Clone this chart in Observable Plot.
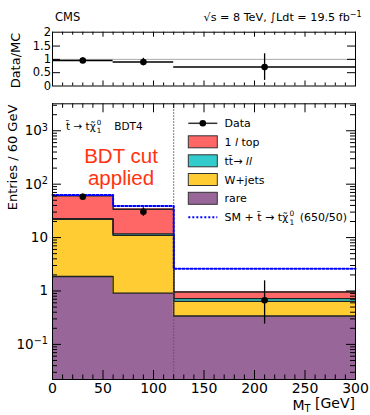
<!DOCTYPE html>
<html><head><meta charset="utf-8">
<script src="https://cdn.jsdelivr.net/npm/d3@7"></script>
<script src="https://cdn.jsdelivr.net/npm/@observablehq/plot@0.6"></script>
<style>
body{margin:0;background:#fff;}
#chart{position:relative;width:370px;height:415px;background:#fff;overflow:hidden;}
#chart svg{position:absolute;left:0;}
</style></head><body><div id="chart"></div>
<script>
// ---- data ----
const binLo = [0, 60, 120];
const binHi = [60, 120, 300];
const binMid = [30, 90, 210];
const layerNames = ["rare", "W+jets", "tt→ll", "1l top"];
const rare = [1.87, 0.91, 0.34];
const wjets = [20.1, 10.1, 0.30];
const ttll = [0.6, 0.7, 0.08];
const oneLepTop = [38.0, 22.3, 0.24];
const smSignal = [63, 39, 2.6];
const dataVal = [58, 30.5, 0.667];
const dataLo = [50.6, 25.1, 0.24];
const dataHi = [65.6, 36.1, 1.55];
const ratioVal = [0.96, 0.90, 0.71];
const ratioLo = [0.86, 0.76, 0.21];
const ratioHi = [1.06, 1.04, 1.21];
const xTicks = [0, 50, 100, 150, 200, 250, 300];
const yTicks = [0.1, 1, 10, 100, 1000];
const ratioTicks = [0, 0.5, 1, 1.5, 2];
const layerColors = ["#996699", "#ffcc33", "#33cccc", "#ff6666"];

// ---- layout ----
const W = 370, mL = 52, mR = 15, fW = W - mL - mR;
const mainTop = 95, mainH = 320, mT = 8.3, mB = 36, fH = mainH - mT - mB;
const rH = 95, rT = 31.7, rB = 9.5, rfH = rH - rT - rB;
const yDom = [0.022, 3200];
const FONT = "DejaVu Sans";

// stacked rows
const layers = [rare, wjets, ttll, oneLepTop];
const stackRows = [];
const tops = [];
const cum = binLo.map(() => 0);
layers.forEach((vals, li) => {
  const t = [];
  vals.forEach((v, bi) => {
    const y1 = cum[bi] === 0 ? 1e-4 : cum[bi];
    cum[bi] += v;
    stackRows.push({layer: layerNames[li], x1: binLo[bi], x2: binHi[bi], y1, y2: cum[bi], color: layerColors[li]});
    t.push(cum[bi]);
  });
  tops.push(t);
});
function stepPts(vals) {
  const pts = [];
  vals.forEach((v, i) => { pts.push({x: binLo[i], y: v}); pts.push({x: binHi[i], y: v}); });
  return pts;
}
const outlineRows = tops.flatMap((t, li) => stepPts(t).map(p => ({...p, layer: li})));
const smRows = stepPts(smSignal);
const dataRows = binMid.map((m, i) => ({x: m, y: dataVal[i], lo: dataLo[i], hi: dataHi[i]}));
const ratioRows = binMid.map((m, i) => ({x: m, x1: binLo[i], x2: binHi[i], y: ratioVal[i], lo: ratioLo[i], hi: ratioHi[i]}));

const xMinor = d3.range(0, 301, 10).filter(v => v % 50 !== 0);
const yMinor = [];
for (let e = -2; e <= 3; e++) for (let m = 2; m <= 9; m++) {
  const v = m * Math.pow(10, e);
  if (v > yDom[0] && v < yDom[1]) yMinor.push(v);
}
const yMajorIn = yTicks.filter(v => v > yDom[0] && v < yDom[1]);

function fmtLog(d) {
  const e = Math.round(Math.log10(d));
  if (e === 0) return "1";
  if (e === 1) return "10";
  return "10^" + e;
}

// ---- main panel ----
const main = Plot.plot({
  width: W, height: mainH,
  marginLeft: mL, marginRight: mR, marginTop: mT, marginBottom: mB,
  style: {fontFamily: FONT, fontSize: "14px", background: "transparent", overflow: "visible"},
  x: {domain: [0, 300], axis: null},
  y: {type: "log", domain: yDom, axis: null},
  marks: [
    Plot.rect(stackRows, {x1: "x1", x2: "x2", y1: "y1", y2: "y2", fill: "color", stroke: "color", strokeWidth: 0.8, clip: true}),
    Plot.line(outlineRows, {x: "x", y: "y", z: "layer", stroke: "#222", strokeWidth: 1.4, clip: true}),
    Plot.ruleX([120], {stroke: "#555", strokeWidth: 1, strokeDasharray: "1.5,1.5"}),
    Plot.line(smRows, {x: "x", y: "y", stroke: "#0000ff", strokeWidth: 2, strokeDasharray: "2,2"}),
    Plot.ruleX(dataRows, {x: "x", y1: "lo", y2: "hi", stroke: "black", strokeWidth: 1.3}),
    Plot.dot(dataRows, {x: "x", y: "y", r: 3.3, fill: "black"}),
    // inside ticks
    Plot.tickX(xTicks, {x: d => d, insetTop: fH - 9, stroke: "black"}),
    Plot.tickX(xTicks, {x: d => d, insetBottom: fH - 9, stroke: "black"}),
    Plot.tickX(xMinor, {x: d => d, insetTop: fH - 4.5, stroke: "black"}),
    Plot.tickX(xMinor, {x: d => d, insetBottom: fH - 4.5, stroke: "black"}),
    Plot.tickY(yMajorIn, {y: d => d, insetRight: fW - 9, stroke: "black"}),
    Plot.tickY(yMajorIn, {y: d => d, insetLeft: fW - 9, stroke: "black"}),
    Plot.tickY(yMinor, {y: d => d, insetRight: fW - 5, stroke: "black"}),
    Plot.tickY(yMinor, {y: d => d, insetLeft: fW - 5, stroke: "black"}),
    Plot.frame({stroke: "black", strokeWidth: 1}),
    Plot.axisX(xTicks, {tickSize: 0, tickPadding: 4, label: null, tickFormat: d => String(d)}),
    Plot.axisY(yTicks, {tickSize: 0, tickPadding: 4.5, label: null, tickFormat: fmtLog})
  ]
});
main.style.top = mainTop + "px";
d3.select(main).selectAll('g[aria-label="y-axis tick label"] text').each(function() {
  const s = d3.select(this);
  s.attr("font-size", 13.5);
  const t = s.text();
  if (t.includes("^")) {
    const [b, e] = t.split("^");
    s.text(b);
    s.append("tspan").attr("dy", "-0.45em").attr("font-size", "0.72em").text(e.replace("-", "\u2212"));
  }
});

// ---- ratio panel ----
const ratio = Plot.plot({
  width: W, height: rH,
  marginLeft: mL, marginRight: mR, marginTop: rT, marginBottom: rB,
  style: {fontFamily: FONT, fontSize: "11.5px", background: "transparent", overflow: "visible"},
  x: {domain: [0, 300], axis: null},
  y: {domain: [0, 2.02], axis: null},
  marks: [
    Plot.ruleY([1], {stroke: "#aaa", strokeWidth: 1}),
    Plot.ruleY(ratioRows, {y: "y", x1: "x1", x2: "x2", stroke: "black", strokeWidth: 1.5}),
    Plot.ruleX(ratioRows, {x: "x", y1: "lo", y2: "hi", stroke: "black", strokeWidth: 1.3}),
    Plot.dot(ratioRows, {x: "x", y: "y", r: 3.3, fill: "black"}),
    Plot.tickX(xTicks, {x: d => d, insetTop: rfH - 5, stroke: "black"}),
    Plot.tickX(xTicks, {x: d => d, insetBottom: rfH - 5, stroke: "black"}),
    Plot.tickX(xMinor, {x: d => d, insetTop: rfH - 3, stroke: "black"}),
    Plot.tickX(xMinor, {x: d => d, insetBottom: rfH - 3, stroke: "black"}),
    Plot.tickY([0.5, 1, 1.5], {y: d => d, insetRight: fW - 8, stroke: "black"}),
    Plot.tickY([0.5, 1, 1.5], {y: d => d, insetLeft: fW - 8, stroke: "black"}),
    Plot.frame({stroke: "black", strokeWidth: 1}),
    Plot.axisY(ratioTicks, {tickSize: 0, tickPadding: 1.5, label: null, tickFormat: d => String(d)})
  ]
});
ratio.style.top = "0px";

const chart = document.getElementById("chart");
chart.appendChild(ratio);
chart.appendChild(main);

// ---- overlay: titles, annotations, legend ----
const ov = d3.create("svg").attr("width", 370).attr("height", 415)
  .style("position", "absolute").style("top", "0px").style("left", "0px")
  .attr("font-family", FONT);
chart.appendChild(ov.node());

ov.append("text").attr("x", 55).attr("y", 20.7).attr("font-size", 11.5).text("CMS");
const en = ov.append("text").attr("x", 361.7).attr("y", 20.7).attr("font-size", 11.2).attr("text-anchor", "end");
en.append("tspan").text("\u221As = 8 TeV,  \u222BLdt = 19.5 fb");
en.append("tspan").attr("dy", "-0.45em").attr("font-size", "0.72em").text("\u22121");

ov.append("text").attr("transform", "translate(20,60.5) rotate(-90)").attr("text-anchor", "middle")
  .attr("font-size", 13).text("Data/MC");
ov.append("text").attr("transform", "translate(16.5,157.5) rotate(-90)").attr("text-anchor", "middle")
  .attr("font-size", 13).text("Entries / 60 GeV");

const mt = ov.append("text").attr("x", 355).attr("y", 409.5).attr("font-size", 14).attr("text-anchor", "end");
mt.append("tspan").text("M");
mt.append("tspan").attr("font-size", "0.7em").attr("dy", "0.25em").text("T");
mt.append("tspan").attr("dy", "-0.25em").text(" [GeV]");

// "t~ -> t chi~_1^0" with stacked sub/superscript, measured in place
function chiLabel(g, x, y, fs, pre, post, postX) {
  const t = g.append("text").attr("x", x).attr("y", y).attr("font-size", fs);
  t.append("tspan").text(pre);
  const w = t.node().getComputedTextLength();
  const sx = x + w + 1;
  t.append("tspan").attr("x", sx).attr("y", y - fs * 0.48).attr("font-size", fs * 0.68).text("0");
  t.append("tspan").attr("x", sx).attr("y", y + fs * 0.3).attr("font-size", fs * 0.68).text("1");
  const p = t.append("tspan").attr("y", y).text(post);
  if (postX != null) p.attr("x", postX); else p.attr("x", sx + fs * 0.95);
  return t;
}
chiLabel(ov, 66, 130, 10.5, "t\u0303 \u2192 t\u03C7\u0303", "BDT4", 114.3);

const bdt = ov.append("text").attr("fill", "#ff3311").attr("font-size", 20.5)
  .attr("font-family", "Liberation Sans").attr("text-anchor", "middle");
bdt.append("tspan").attr("x", 121).attr("y", 162.5).text("BDT cut");
bdt.append("tspan").attr("x", 121).attr("y", 184.5).text("applied");

// legend
const lx0 = 188.3, lx1 = 217.3, tx = 224.5, lfs = 11;
const rowsY = [123.3, 141.8, 160.8, 179.5, 198.3, 217.3];
const lg = ov.append("g");
lg.append("line").attr("x1", lx0).attr("x2", lx1).attr("y1", rowsY[0]).attr("y2", rowsY[0]).attr("stroke", "#333").attr("stroke-width", 1.5);
lg.append("circle").attr("cx", (lx0 + lx1) / 2).attr("cy", rowsY[0]).attr("r", 3.3).attr("fill", "black");
lg.append("text").attr("x", tx).attr("y", rowsY[0] + 4).attr("font-size", lfs).text("Data");
const swatch = (row, color) => lg.append("rect").attr("x", lx0).attr("y", rowsY[row] - 6).attr("width", lx1 - lx0).attr("height", 12)
  .attr("fill", color).attr("stroke", "#333").attr("stroke-width", 1);
swatch(1, layerColors[3]); swatch(2, layerColors[2]); swatch(3, layerColors[1]); swatch(4, layerColors[0]);
const l1 = lg.append("text").attr("x", tx).attr("y", rowsY[1] + 4).attr("font-size", lfs);
l1.append("tspan").text("1 "); l1.append("tspan").attr("font-style", "italic").text("l"); l1.append("tspan").text(" top");
const l2 = lg.append("text").attr("x", tx).attr("y", rowsY[2] + 4).attr("font-size", lfs);
l2.append("tspan").text("tt\u0304\u2192 "); l2.append("tspan").attr("font-style", "italic").text("ll");
lg.append("text").attr("x", tx).attr("y", rowsY[3] + 4).attr("font-size", lfs).text("W+jets");
lg.append("text").attr("x", tx).attr("y", rowsY[4] + 4).attr("font-size", lfs).text("rare");
lg.append("line").attr("x1", lx0).attr("x2", lx1).attr("y1", rowsY[5]).attr("y2", rowsY[5]).attr("stroke", "#0000ff").attr("stroke-width", 2).attr("stroke-dasharray", "2,2");
chiLabel(lg, tx, rowsY[5] + 4, lfs, "SM + t\u0303 \u2192 t\u03C7\u0303", "(650/50)");
</script>
</body></html>
